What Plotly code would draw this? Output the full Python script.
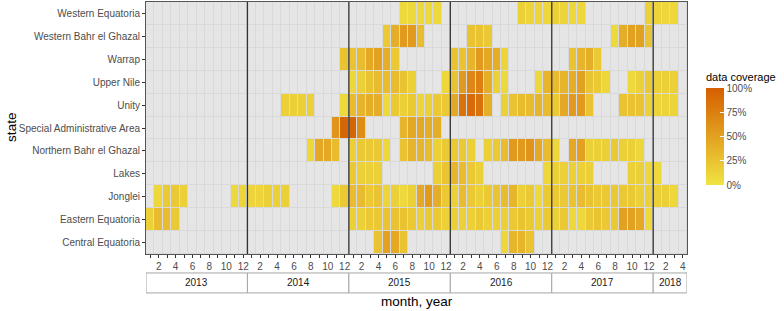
import plotly.graph_objects as go

_ = None
years = [2013, 2014, 2015, 2016, 2017, 2018]
months_per_year = [12, 12, 12, 12, 12, 4]
months = [f"{y}-{m:02d}" for y, n in zip(years, months_per_year) for m in range(1, n + 1)]
month_tick_text = [str(int(m[-2:])) if int(m[-2:]) % 2 == 0 else "" for m in months]

states = ["Central Equatoria", "Eastern Equatoria", "Jonglei", "Lakes",
          "Northern Bahr el Ghazal", "Special Administrative Area", "Unity",
          "Upper Nile", "Warrap", "Western Bahr el Ghazal", "Western Equatoria"]

E = [_] * 12  # an empty year

central_equatoria = (E + E
    + [_, _, _, 25, 50, 45, 25, _, _, _, _, _]
    + [_, _, _, _, _, _, 10, 35, 35, 25, _, _]
    + E + [_, _, _, _])
eastern_equatoria = ([15, 30, 30, 20, _, _, _, _, _, _, _, _] + E
    + [15, 15, 20, 20, 25, 25, 25, 20, 15, 20, 20, 15]
    + [15, 15, 15, 20, 15, 15, 15, 20, 25, 20, 15, 20]
    + [15, 20, 10, 10, 20, 25, 20, 20, 50, 50, 45, 8]
    + [_, _, _, _])
jonglei = ([_, 10, 20, 20, 15, _, _, _, _, _, 8, 12]
    + [12, 12, 15, 15, 15, _, _, _, _, _, 8, 20]
    + [30, 30, 20, 25, 12, 15, 8, 15, 45, 55, 40, 20]
    + [15, 30, 20, 15, 20, 25, 30, 35, 15, 20, 8, 20]
    + [20, 20, 25, 30, 25, 20, 20, 20, 20, 20, 15, 15]
    + [15, 15, 10, _])
lakes = (E + E
    + [20, 15, 15, 15, _, _, _, _, _, _, 15, 25]
    + [35, 30, 20, 15, _, _, _, _, _, _, _, 10]
    + [15, 15, 15, 15, 15, _, _, _, _, 15, 15, 10]
    + [8, _, _, _])
northern_bahr_el_ghazal = (E
    + [_, _, _, _, _, _, _, 10, 45, 45, 30, _]
    + [15, 20, 20, 20, 10, _, 25, 35, 35, 30, 15, 20]
    + [20, 20, 15, _, 15, 20, 30, 55, 55, 60, 45, 30]
    + [10, _, 45, 50, 15, 15, 15, 20, 15, 15, 10, _]
    + [_, _, _, _])
special_administrative_area = (E
    + [_, _, _, _, _, _, _, _, _, _, 60, 95]
    + [95, 65, _, _, _, _, 35, 45, 45, 40, 40, _]
    + E + E + [_, _, _, _])
unity = (E
    + [_, _, _, _, 15, 15, 15, 15, _, _, _, 8]
    + [30, 35, 40, 40, 8, 20, 15, 20, 12, 15, 20, 20]
    + [45, 85, 90, 85, 40, _, 15, 25, 30, 30, 35, 30]
    + [20, 45, 55, 55, 25, _, _, _, 25, 25, 25, 15]
    + [12, 12, 12, _])
upper_nile = (E + E
    + [10, 15, 25, 30, 30, 30, 25, 15, _, _, _, 10]
    + [25, 55, 70, 75, 40, 15, 8, _, _, _, 10, 35]
    + [30, 35, 40, 50, 25, 20, 10, _, _, 8, 15, 20]
    + [15, 15, 15, _])
warrap = (E
    + [_, _, _, _, _, _, _, _, _, _, _, 25]
    + [25, 30, 45, 50, 40, 20, _, _, _, _, _, _]
    + [25, 25, 35, 55, 45, 40, 12, _, _, _, _, _]
    + [_, _, 25, 35, 40, 20, _, _, _, _, _, _]
    + [_, _, _, _])
western_bahr_el_ghazal = (E + E
    + [_, _, _, _, 20, 40, 55, 55, 30, _, _, _]
    + [_, _, 25, 25, 20, _, _, _, _, _, _, _]
    + [_, _, _, _, _, _, _, 8, 40, 50, 50, 25]
    + [_, _, _, _])
western_equatoria = (E + E
    + [_, _, _, _, _, _, 8, 8, 8, 8, 8, _]
    + [_, _, _, _, _, _, _, _, 15, 12, 12, 10]
    + [15, 12, 10, 10, _, _, _, _, _, _, _, 15]
    + [12, 10, 10, _])

z = [central_equatoria, eastern_equatoria, jonglei, lakes, northern_bahr_el_ghazal,
     special_administrative_area, unity, upper_nile, warrap,
     western_bahr_el_ghazal, western_equatoria]

legend_ticks = [0, 25, 50, 75, 100]
legend_text = ["0%", "25%", "50%", "75%", "100%"]

FONT = "Liberation Sans, Arial, sans-serif"
W, H = 784, 311
L, R, T, B = 145.5, 97, 1.5, 57
ph = H - T - B
pw = W - L - R

def py(px):
    return (H - B - px) / ph

def pxx(px):
    return (px - L) / pw

fig = go.Figure()
# background tiles (NA cells)
fig.add_trace(go.Heatmap(
    x=months, y=states, z=[[0] * len(months) for _s in states],
    colorscale=[[0, "#E5E5E5"], [1, "#E5E5E5"]], showscale=False,
    xgap=1, ygap=1, hoverinfo="skip"))
fig.add_trace(go.Heatmap(
    x=months, y=states, z=z, zmin=0, zmax=100,
    colorscale=[[0, "#F0E442"], [1, "#D55E00"]],
    xgap=1, ygap=1,
    colorbar=dict(
        tickvals=legend_ticks, ticktext=legend_text,
        tickfont=dict(family=FONT, size=10, color="#4D4D4D"),
        ticks="inside", ticklen=4, tickcolor="white",
        thickness=18, thicknessmode="pixels",
        len=97, lenmode="pixels",
        x=pxx(706), xanchor="left", xpad=0,
        y=py(136.5), yanchor="middle", ypad=0,
        outlinewidth=0)))

shapes = []
annotations = []
start = 0
for yr, n in zip(years, months_per_year):
    x0, x1 = start - 0.5, start + n - 0.5
    shapes.append(dict(type="rect", xref="x", yref="paper", x0=x0, x1=x1,
                       y0=py(293), y1=py(273), fillcolor="white",
                       line=dict(color="#A6A6A6", width=1), layer="above"))
    annotations.append(dict(x=(x0 + x1) / 2, y=py(283), xref="x", yref="paper",
                            xanchor="center", yanchor="middle",
                            text=str(yr), showarrow=False,
                            font=dict(family=FONT, size=10, color="#1A1A1A")))
    if start > 0:
        shapes.append(dict(type="line", xref="x", yref="paper", x0=x0, x1=x0,
                           y0=0, y1=1, line=dict(color="#333333", width=1.3),
                           layer="above"))
    start += n

annotations.append(dict(x=0.5, y=py(302), xref="paper", yref="paper",
                        xanchor="center", yanchor="middle",
                        text="month, year", showarrow=False,
                        font=dict(family=FONT, size=13.5, color="#000")))
annotations.append(dict(x=pxx(11), y=py(127), xref="paper", yref="paper",
                        xanchor="center", yanchor="middle",
                        text="state", showarrow=False, textangle=-90,
                        font=dict(family=FONT, size=13.5, color="#000")))
annotations.append(dict(x=pxx(704), y=py(77), xref="paper", yref="paper",
                        xanchor="left", yanchor="middle",
                        text="data coverage", showarrow=False,
                        font=dict(family=FONT, size=11, color="#000")))

fig.update_layout(
    width=W, height=H,
    margin=dict(l=L, r=R, t=T, b=B, pad=0, autoexpand=False),
    paper_bgcolor="white", plot_bgcolor="#D9D9D9",
    font=dict(family=FONT),
    shapes=shapes, annotations=annotations,
    xaxis=dict(type="category", range=[-0.5, len(months) - 0.5],
               tickmode="array", tickvals=months, ticktext=month_tick_text,
               ticks="outside", ticklen=3, tickcolor="#333333",
               tickfont=dict(family=FONT, size=10, color="#4D4D4D"),
               showgrid=False, zeroline=False, automargin=False,
               showline=True, mirror=True, linecolor="#555555", linewidth=1),
    yaxis=dict(type="category", range=[-0.5, len(states) - 0.5],
               ticks="outside", ticklen=3, tickcolor="#333333",
               tickfont=dict(family=FONT, size=10, color="#4D4D4D"),
               showgrid=False, zeroline=False, automargin=False,
               showline=True, mirror=True, linecolor="#555555", linewidth=1),
)

fig.write_html("out.html", config={"displayModeBar": False},
               post_script="document.body.style.margin='0px';")
